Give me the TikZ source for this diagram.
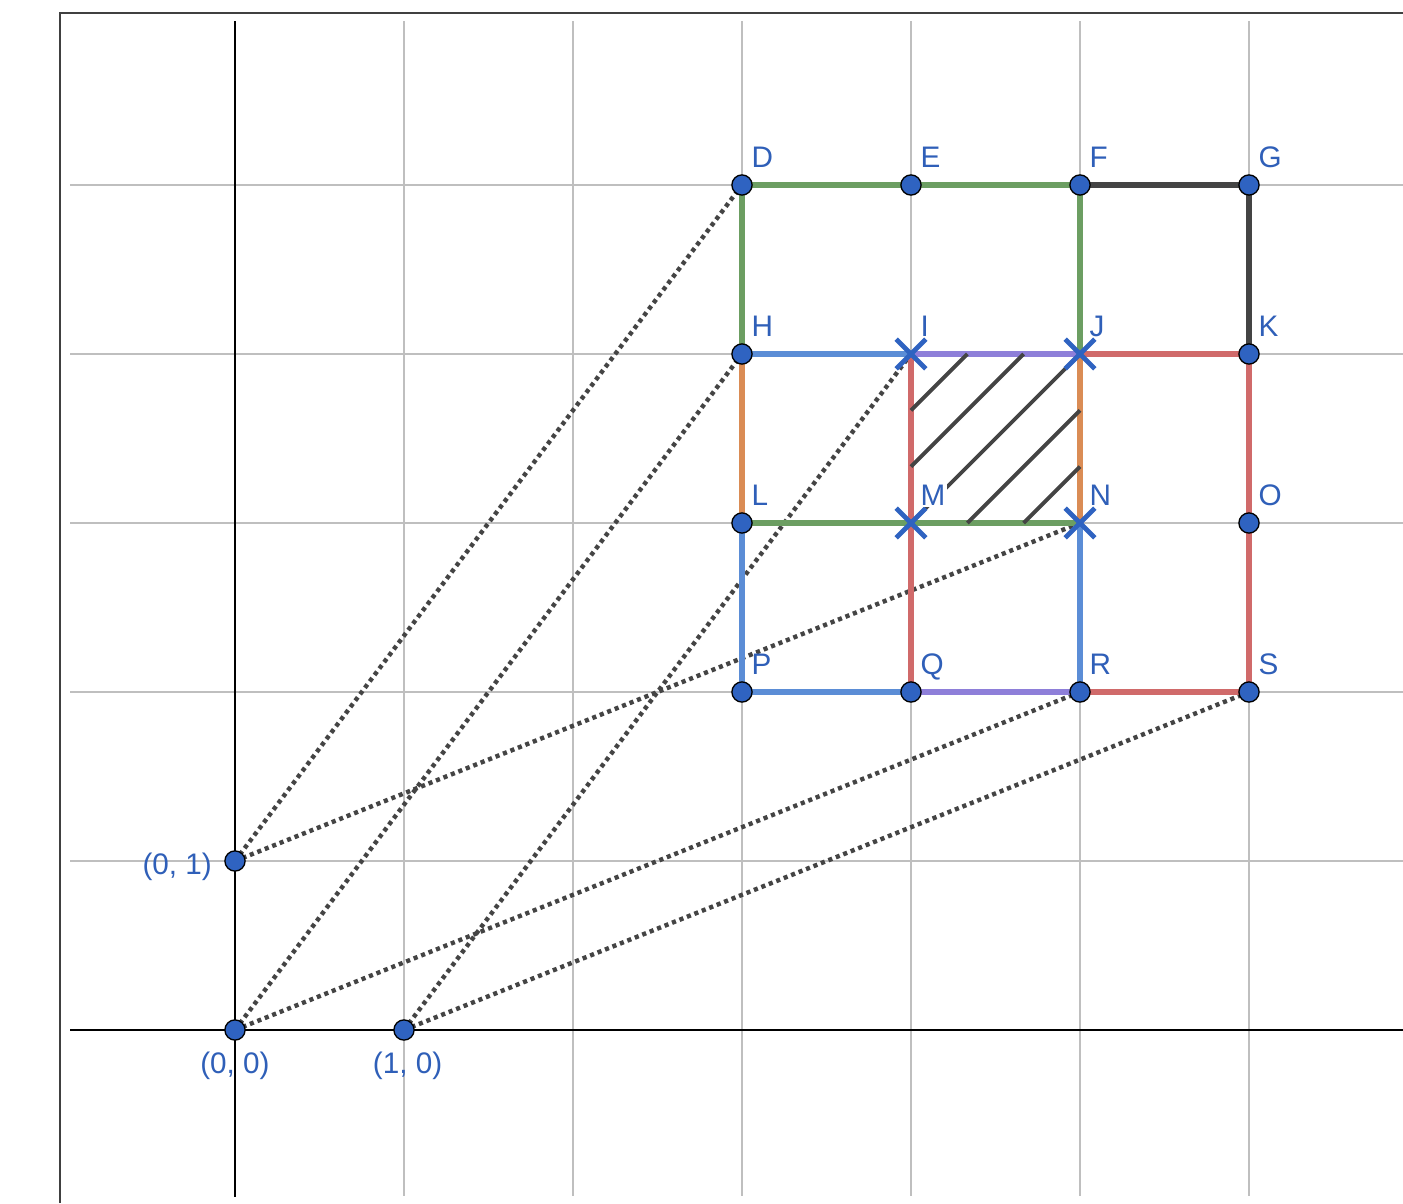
\documentclass[tikz,border=0pt]{standalone}
\usepackage{fontspec}
\setmainfont{Liberation Sans}
\usetikzlibrary{calc,shapes.misc}
\definecolor{ptblue}{HTML}{2F63C1}
\definecolor{lblblue}{HTML}{2F5FB8}
\definecolor{segGreen}{HTML}{6C9E62}
\definecolor{segBlue}{HTML}{5B8DD6}
\definecolor{segPurple}{HTML}{8E7FD9}
\definecolor{segRed}{HTML}{D06A6A}
\definecolor{segOrange}{HTML}{DA8C55}
\definecolor{segDark}{HTML}{444444}

\begin{document}
\begin{tikzpicture}[x=2cm,y=2cm,
  seg/.style={line width=1.8pt},
  dotline/.style={segDark,line width=1.5pt,dash pattern=on 1.4pt off 1.3pt},
  hatchline/.style={segDark,line width=1.3pt},
  xmark/.style={cross out,draw=ptblue,line width=1.6pt,minimum size=8.4pt,inner sep=0pt},
  lbl/.style={text=lblblue,font=\fontsize{10}{12}\selectfont,inner sep=0pt}]
  \useasboundingbox (-1.3905,-1.0237) rectangle (6.9112,6.0947);
  % frame and grid
  \draw[black!75,line width=0.45pt] (-1.0355,-1.0237) -- (-1.0355,6.0178) -- (6.9112,6.0178);
  \foreach \x in {1,...,6} \draw[black!25,line width=0.5pt] (\x,-0.98) -- (\x,5.97);
  \foreach \y in {1,...,5} \draw[black!25,line width=0.5pt] (-0.976,\y) -- (6.9112,\y);
  \draw[line width=0.7pt] (-0.976,0) -- (6.9112,0);
  \draw[line width=0.7pt] (0,-0.988) -- (0,5.97);
  % points
  \foreach \n/\x/\y in {D/3/5,E/4/5,F/5/5,G/6/5,H/3/4,I/4/4,J/5/4,K/6/4,
                        L/3/3,M/4/3,N/5/3,O/6/3,P/3/2,Q/4/2,R/5/2,S/6/2,
                        orig/0/0,yone/0/1,xone/1/0}
    \coordinate (\n) at (\x,\y);
  % dotted rays
  \foreach \a/\b in {yone/D,yone/N,orig/H,orig/R,xone/I,xone/S}
    \draw[dotline] (\a) -- (\b);
  % coloured sides
  \draw[seg,segGreen] (D) -- (E) -- (F) -- (J);
  \draw[seg,segGreen] (D) -- (H);
  \draw[seg,segGreen] (L) -- (M) -- (N);
  \draw[seg,segDark] (F) -- (G) -- (K);
  \draw[seg,segOrange] (H) -- (L);
  \draw[seg,segOrange] (J) -- (N);
  \draw[seg,segBlue] (H) -- (I);
  \draw[seg,segBlue] (N) -- (R);
  \draw[seg,segBlue] (L) -- (P) -- (Q);
  \draw[seg,segPurple] (I) -- (J);
  \draw[seg,segPurple] (Q) -- (R);
  \draw[seg,segRed] (I) -- (M) -- (Q);
  \draw[seg,segRed] (J) -- (K) -- (O) -- (S) -- (R);
  % hatching of IJNM
  \foreach \c in {1,2} {
    \draw[hatchline] ($(I)+(0,-\c/3)$) -- ($(I)+(\c/3,0)$);
    \draw[hatchline] ($(M)+(\c/3,0)$) -- ($(N)+(0,1-\c/3)$);
  }
  \draw[hatchline] (M) -- (J);
  % markers
  \foreach \n in {D,E,F,G,H,K,L,O,P,Q,R,S,orig,yone,xone}
    \filldraw[fill=ptblue,draw=black,line width=0.45pt] (\n) circle (3.4pt);
  \foreach \n in {I,J,M,N}
    \node[xmark] (x\n) at (\n) {};
  % labels
  \foreach \n in {D,E,F,G,H,I,J,K,L,N,O,P,Q,R,S}
    \node[lbl,anchor=base west,xshift=3pt,yshift=6pt] (lab\n) at (\n) {\n};
  \node[lbl,anchor=base west,xshift=2.3pt,yshift=6pt,fill=white,inner sep=0.7pt] (labM) at (M) {M};
  \node[lbl,anchor=base east,xshift=-7.6pt,yshift=-4.7pt] (labyone) at (yone) {(0, 1)};
  \node[lbl,anchor=base,yshift=-14.5pt] (laborig) at (orig) {(0, 0)};
  \node[lbl,anchor=base,xshift=1.2pt,yshift=-14.5pt] (labxone) at (xone) {(1, 0)};
\end{tikzpicture}
\end{document}
